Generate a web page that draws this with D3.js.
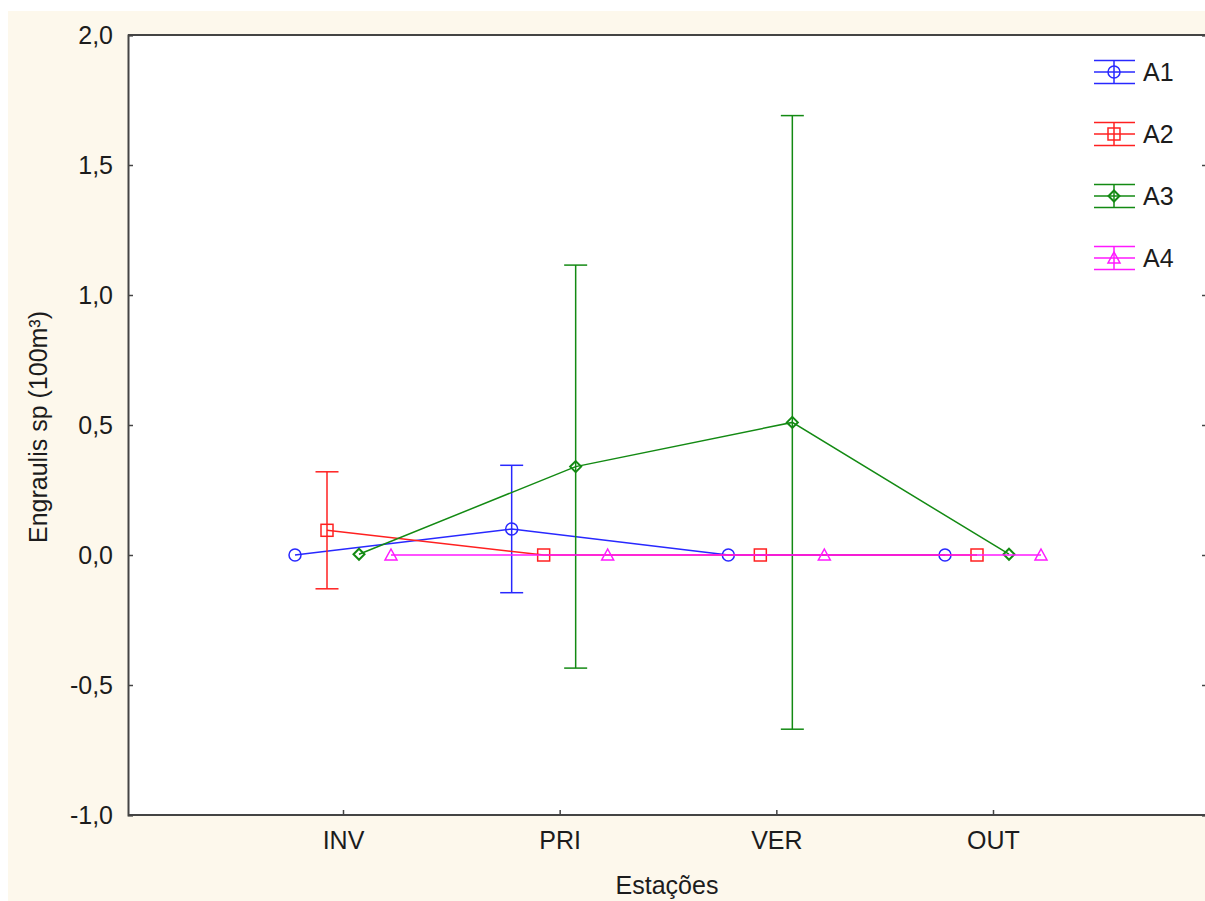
<!DOCTYPE html>
<html>
<head>
<meta charset="utf-8">
<title>Engraulis sp</title>
<style>
    body { margin: 0; background: #ffffff; }
    svg { display: block; }
    text { font-family: "Liberation Sans", Arial, sans-serif; fill: #1c1c1c; }
</style>
</head>
<body>
<svg width="1205" height="901"></svg>
<script src="https://cdnjs.cloudflare.com/ajax/libs/d3/7.8.5/d3.min.js"></script>
<script>
// dados
const categories = ["INV", "PRI", "VER", "OUT"];
const seriesNames = ["A1", "A2", "A3", "A4"];
const seriesColors = ["#2828ff", "#ff2020", "#138a13", "#ff19ff"];
const a1Mean = [0, 0.10, 0, 0];
const a1Err = [0, 0.245, 0, 0];
const a2Mean = [0.095, 0, 0, 0];
const a2Err = [0.225, 0, 0, 0];
const a3Mean = [0.003, 0.34, 0.51, 0.003];
const a3Err = [0, 0.775, 1.18, 0];
const a4Mean = [0, 0, 0, 0];
const a4Err = [0, 0, 0, 0];
const yTicks = [-1.0, -0.5, 0, 0.5, 1.0, 1.5, 2.0];

const means = [a1Mean, a2Mean, a3Mean, a4Mean];
const errs = [a1Err, a2Err, a3Err, a4Err];

const svg = d3.select("svg");
const margin = { left: 128, top: 35, right: 1210, bottom: 815 };

// fundo creme e área branca
svg.append("rect").attr("x", 8).attr("y", 11).attr("width", 1197).attr("height", 890).attr("fill", "#fdf8ec");
svg.append("rect").attr("x", margin.left).attr("y", margin.top)
    .attr("width", margin.right - margin.left).attr("height", margin.bottom - margin.top).attr("fill", "#ffffff");

const x = d3.scalePoint().domain(categories).range([343, 993]);
const y = d3.scaleLinear().domain([-1, 2]).range([margin.bottom, margin.top]);
const offsets = d3.scalePoint().domain(seriesNames).range([-48, 48]);
const fmt = v => d3.format(".1f")(v).replace(".", ",").replace("\u2212", "-");

// eixos
const axisColor = "#444";
svg.append("g").attr("transform", "translate(" + margin.left + ",0)")
    .call(d3.axisLeft(y).tickValues(yTicks).tickFormat(fmt).tickSize(-5).tickPadding(15))
    .call(g => {
        g.select(".domain").attr("stroke", axisColor).attr("stroke-width", 2);
        g.selectAll(".tick line").attr("stroke", axisColor).attr("stroke-width", 1.5);
        g.selectAll("text").attr("font-size", 25).attr("fill", "#1c1c1c").attr("font-family", "Liberation Sans, Arial, sans-serif");
    });
svg.append("g").attr("transform", "translate(" + margin.right + ",0)")
    .call(d3.axisRight(y).tickValues(yTicks).tickFormat("").tickSize(-8))
    .call(g => {
        g.select(".domain").attr("stroke", axisColor).attr("stroke-width", 2);
        g.selectAll(".tick line").attr("stroke", axisColor).attr("stroke-width", 1.5);
    });
svg.append("g").attr("transform", "translate(0," + margin.bottom + ")")
    .call(d3.axisBottom(x).tickSize(-5).tickPadding(16))
    .call(g => {
        g.select(".domain").remove();
        g.selectAll(".tick line").attr("stroke", axisColor).attr("stroke-width", 1.5);
        g.selectAll("text").attr("font-size", 25).attr("fill", "#1c1c1c").attr("font-family", "Liberation Sans, Arial, sans-serif");
    });
svg.append("line").attr("x1", margin.left).attr("x2", margin.right)
    .attr("y1", margin.bottom).attr("y2", margin.bottom).attr("stroke", axisColor).attr("stroke-width", 2);
svg.append("line").attr("x1", margin.left).attr("x2", margin.right)
    .attr("y1", margin.top).attr("y2", margin.top).attr("stroke", axisColor).attr("stroke-width", 2);

// títulos
svg.append("text").attr("x", 667).attr("y", 894).attr("text-anchor", "middle")
    .attr("font-size", 25).text("Estações");
svg.append("text").attr("transform", "translate(47,427) rotate(-90)").attr("text-anchor", "middle")
    .attr("font-size", 25).text("Engraulis sp (100m³)");

// marcadores
function drawMarker(g, k, cx, cy, color) {
    if (k === 0) {
        g.append("circle").attr("cx", cx).attr("cy", cy).attr("r", 6)
            .attr("fill", "none").attr("stroke", color).attr("stroke-width", 1.5);
    } else if (k === 1) {
        g.append("rect").attr("x", cx - 6).attr("y", cy - 6).attr("width", 12).attr("height", 12)
            .attr("fill", "none").attr("stroke", color).attr("stroke-width", 1.5);
    } else if (k === 2) {
        g.append("path").attr("d", "M" + cx + "," + (cy - 5.5) + "L" + (cx + 5.5) + "," + cy + "L" + cx + "," + (cy + 5.5) + "L" + (cx - 5.5) + "," + cy + "Z")
            .attr("fill", "none").attr("stroke", color).attr("stroke-width", 2);
    } else {
        g.append("path").attr("d", "M" + cx + "," + (cy - 6) + "L" + (cx + 6) + "," + (cy + 5) + "L" + (cx - 6) + "," + (cy + 5) + "Z")
            .attr("fill", "none").attr("stroke", color).attr("stroke-width", 1.5);
    }
}

seriesNames.forEach((name, k) => {
    const color = seriesColors[k];
    const g = svg.append("g");
    const pts = categories.map((c, i) => ({ x: x(c) + offsets(name), m: means[k][i], e: errs[k][i] }));
    g.append("path").datum(pts)
        .attr("d", d3.line().x(d => d.x).y(d => y(d.m)))
        .attr("fill", "none").attr("stroke", color).attr("stroke-width", 1.5);
    pts.filter(d => d.e > 0).forEach(d => {
        const capW = 11.5;
        g.append("line").attr("x1", d.x).attr("x2", d.x).attr("y1", y(d.m + d.e)).attr("y2", y(d.m - d.e))
            .attr("stroke", color).attr("stroke-width", 1.5);
        [d.m + d.e, d.m - d.e].forEach(v => {
            g.append("line").attr("x1", d.x - capW).attr("x2", d.x + capW).attr("y1", y(v)).attr("y2", y(v))
                .attr("stroke", color).attr("stroke-width", 1.5);
        });
    });
    pts.forEach(d => drawMarker(g, k, d.x, y(d.m), color));

    // legenda
    const ly = 72 + k * 62;
    const lg = svg.append("g");
    [-11.5, 0, 11.5].forEach(dy => {
        lg.append("line").attr("x1", 1094).attr("x2", 1135).attr("y1", ly + dy).attr("y2", ly + dy)
            .attr("stroke", color).attr("stroke-width", 1.5);
    });
    lg.append("line").attr("x1", 1114).attr("x2", 1114).attr("y1", ly - 11.5).attr("y2", ly + 11.5)
        .attr("stroke", color).attr("stroke-width", 1.5);
    drawMarker(lg, k, 1114, ly, color);
    lg.append("text").attr("x", 1143).attr("y", ly + 9).attr("font-size", 25).text(name);
});
</script>
</body>
</html>
